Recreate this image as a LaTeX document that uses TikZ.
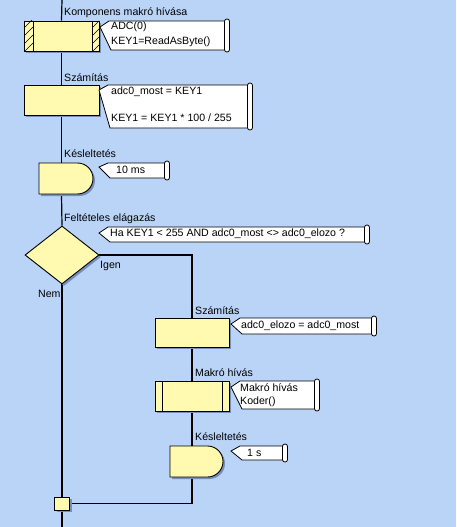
\documentclass[tikz,border=0pt]{standalone}
\usepackage{fontspec}
\setmainfont{Liberation Sans}
\usetikzlibrary{shapes.geometric,shapes.misc,shadows,calc}
\definecolor{bg}{RGB}{186,212,248}
\definecolor{yel}{RGB}{255,250,175}
\definecolor{shd}{RGB}{118,142,190}
\pgfdeclarelayer{background}
\pgfsetlayers{background,main}
\tikzset{
  line/.style={line width=1.2pt, black},
  shp/.style={draw=black, line width=0.9pt, fill=yel, inner sep=0pt,
    drop shadow={shadow xshift=2pt, shadow yshift=-2pt, fill=shd, opacity=1}},
  box/.style={shp, rectangle, minimum width=75pt, minimum height=30pt},
  delaybox/.style={shp, rounded rectangle, rounded rectangle left arc=none, minimum width=54pt, minimum height=31pt},
  decbox/.style={shp, diamond, minimum width=74pt, minimum height=58pt, shape aspect=1.28},
  joinbox/.style={shp, rectangle, minimum width=15pt, minimum height=13pt},
  txt/.style={anchor=west, inner sep=0pt, font=\fontsize{10.6}{12}\selectfont},
  cmtline/.style={draw=black, line width=0.8pt, fill=white},
  capsule/.style={draw=black, line width=0.8pt, fill=white, rectangle, rounded corners=2.4pt, minimum width=5pt, inner sep=0pt},
}
% name, tipx, tipy, top, bottom, right
\newcommand\cmtshape[6]{%
  \draw[cmtline] (#2+9,#4) -- (#2,#3) -- (#2+11,#5) -- (#6,#5) -- (#6,#4) -- cycle;
  \node[capsule, minimum height={(#5-#4+4)*1pt}] (#1) at (#6,{(#4+#5)/2}) {};
}
\begin{document}
\begin{tikzpicture}[x=1pt,y=-1pt]
\useasboundingbox (0,0) rectangle (456,527);
\coordinate (topc) at (62,0);
\coordinate (botc) at (62,527);

% shapes
\node[box] (cmp) at (61.5,36) {};
\begin{scope}
  \clip (24,21) rectangle (33,51);
  \foreach \k in {0,...,6} {\draw[line width=0.7pt] (24,{60-8*\k}) -- ++(9,-9);}
\end{scope}
\begin{scope}
  \clip (92,21) rectangle (99,51);
  \foreach \k in {0,...,6} {\draw[line width=0.7pt] (92,{60-8*\k}) -- ++(9,-9);}
\end{scope}
\draw[line width=0.9pt] (33,21) -- (33,51) (92,21) -- (92,51);
\draw[line width=0.9pt] (24,21) rectangle (99,51);

\node[box] (calc1) at (61.5,100) {};
\node[delaybox] (delay1) at (66,178.5) {};
\node[decbox] (dec) at (62,255) {};
\node[box, minimum width=74pt, minimum height=29pt] (calc2) at (192,332.5) {};
\node[box, minimum width=74pt] (macro) at (192,396) {};
\draw[line width=0.9pt] (162,381) -- (162,411) (222,381) -- (222,411);
\node[delaybox, minimum width=53pt] (delay2) at (196.5,461.5) {};
\node[joinbox] (join) at (62,503.5) {};

% background and connectors
\begin{pgfonlayer}{background}
\fill[bg] (0,0) rectangle (456,527);
\draw[line] (topc) -- (cmp.north);
\draw[line] (cmp.south) -- (calc1.north);
\draw[line] (calc1.south) -- (calc1.south |- delay1.north);
\draw[line] (calc1.south |- delay1.south) -- (dec.north);
\draw[line] (dec.south) -- (join.north);
\draw[line] (join.south) -- (botc);
\draw[line] (dec.east) -| (calc2.north);
\draw[line] (calc2.south) -- (macro.north);
\draw[line] (macro.south) -- (macro.south |- delay2.north);
\draw[line] (macro.south |- delay2.south) |- (join.east);
\end{pgfonlayer}

% comments
\cmtshape{c1}{100}{27}{21}{50}{227}
\cmtshape{c2}{99}{90}{85}{128}{250}
\cmtshape{c3}{99}{167}{163}{178}{167}
\cmtshape{c4}{99}{233}{227}{242}{367}
\cmtshape{c5}{231}{324}{318}{334}{374}
\cmtshape{c6}{231}{387}{381}{409}{317}
\cmtshape{c7}{231}{451}{446}{460}{285}

% labels
\node[txt] (l1) at (64,13) {Komponens makró hívása};
\node[txt] (t1a) at (111,27) {ADC(0)};
\node[txt] (t1b) at (111,42) {KEY1=ReadAsByte()};
\node[txt] (l2) at (64,78) {Számítás};
\node[txt] (t2a) at (111,92) {adc0\_most = KEY1};
\node[txt] (t2b) at (111,118) {KEY1 = KEY1 * 100 / 255};
\node[txt] (l3) at (64,154) {Késleltetés};
\node[txt] (t3) at (116,170) {10 ms};
\node[txt] (l4) at (64,219) {Feltételes elágazás};
\node[txt] (t4) at (110,234) {Ha KEY1 < 255 AND adc0\_most <> adc0\_elozo ?};
\node[txt] (yes) at (100,266) {Igen};
\node[txt] (no) at (38,294) {Nem};
\node[txt] (l5) at (195,311) {Számítás};
\node[txt] (t5) at (241,326) {adc0\_elozo = adc0\_most};
\node[txt] (l6) at (195,373) {Makró hívás};
\node[txt] (t6a) at (240,388) {Makró hívás};
\node[txt] (t6b) at (240,402) {Koder()};
\node[txt] (l7) at (195,437) {Késleltetés};
\node[txt] (t7) at (247,453) {1 s};
\end{tikzpicture}
\end{document}
